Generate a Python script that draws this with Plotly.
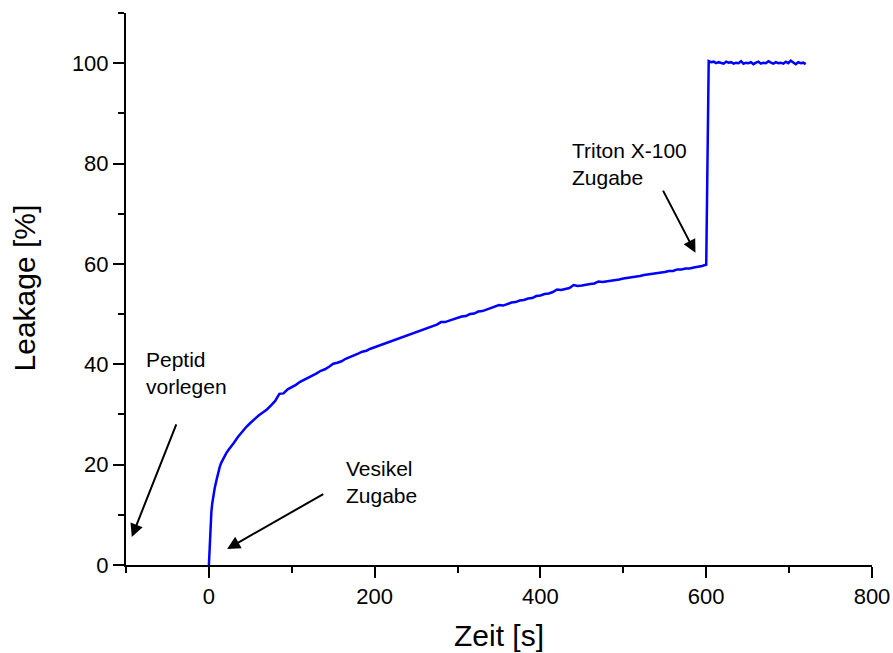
import plotly.graph_objects as go

# --- data ---
time_s = [0, 1, 2, 3, 4, 5, 7, 9, 11, 13, 15, 18, 21, 24, 27, 30,
          35, 40, 45, 50, 55, 60, 65, 70, 75, 80, 85, 90, 95, 100,
          105, 110, 115, 120, 125, 130, 135, 140, 145, 150,
          155, 160, 165, 170, 175, 180, 185, 190, 195, 200,
          205, 210, 215, 220, 225, 230, 235, 240, 245, 250,
          255, 260, 265, 270, 275, 280, 285, 290, 295, 300,
          305, 310, 315, 320, 325, 330, 335, 340, 345, 350,
          355, 360, 365, 370, 375, 380, 385, 390, 395, 400,
          405, 410, 415, 420, 425, 430, 435, 440, 445, 450,
          455, 460, 465, 470, 475, 480, 485, 490, 495, 500,
          505, 510, 515, 520, 525, 530, 535, 540, 545, 550,
          555, 560, 565, 570, 575, 580, 585, 590, 595, 599,
          600, 603, 606, 609, 612, 615, 618, 621, 624, 627, 630,
          633, 636, 639, 642, 645, 648, 651, 654, 657, 660,
          663, 666, 669, 672, 675, 678, 681, 684, 687, 690,
          693, 696, 699, 702, 705, 708, 711, 714, 717, 720]

leakage_pct = [0.0, 5.0, 8.6, 10.6, 12.2, 13.5, 15.3, 16.8, 18.3, 19.5, 20.4, 21.5, 22.3, 23.0, 23.6, 24.3,
               25.5, 26.6, 27.5, 28.3, 29.1, 29.8, 30.4, 31.0, 31.8, 32.7, 34.1, 34.2, 35.0, 35.4,
               35.9, 36.5, 36.9, 37.4, 37.8, 38.2, 38.7, 39.0, 39.5, 40.1,
               40.3, 40.6, 41.1, 41.4, 41.8, 42.1, 42.5, 42.7, 43.1, 43.4,
               43.8, 44.0, 44.4, 44.6, 45.0, 45.2, 45.6, 45.8, 46.2, 46.4,
               46.8, 47.0, 47.4, 47.6, 47.9, 48.4, 48.4, 48.7, 49.0, 49.2,
               49.5, 49.6, 50.0, 50.1, 50.5, 50.6, 50.9, 51.1, 51.4, 51.8,
               51.7, 52.0, 52.3, 52.4, 52.7, 52.8, 53.1, 53.2, 53.6, 53.7,
               54.0, 54.1, 54.4, 54.9, 54.8, 55.0, 55.2, 55.8, 55.6, 55.7,
               55.9, 56.0, 56.1, 56.5, 56.4, 56.5, 56.6, 56.8, 56.9, 57.1,
               57.2, 57.3, 57.5, 57.6, 57.8, 57.9, 58.1, 58.1, 58.3, 58.4,
               58.6, 58.6, 58.9, 58.9, 59.1, 59.1, 59.3, 59.4, 59.6, 59.8,
               59.7, 100.4, 100.2, 100.3, 100.0, 100.2, 100.1, 99.9, 100.3, 100.1, 100.2,
               99.9, 100.1, 100.0, 100.4, 99.9, 100.1, 100.0, 100.2, 99.8, 100.1,
               100.3, 99.9, 100.1, 100.0, 100.4, 100.1, 99.9, 100.2, 100.0, 100.1,
               99.9, 100.3, 100.0, 100.5, 100.1, 99.8, 100.2, 100.0, 100.1, 99.8]

x_ticks = [0, 200, 400, 600, 800]
y_ticks = [0, 20, 40, 60, 80, 100]

# annotations: (text, text_x, text_y, head_x, head_y, tail_x, tail_y)
notes_text = ["Peptid<br>vorlegen", "Vesikel<br>Zugabe", "Triton X-100<br>Zugabe"]
notes_text_x = [-78, 163, 436]
notes_text_y = [43.7, 22.0, 85.2]
arrow_head_x = [-93, 22, 587]
arrow_head_y = [5.6, 3.2, 62.2]
arrow_tail_x = [-38.6, 139.8, 547]
arrow_tail_y = [28.3, 14.3, 74.9]

FONT = "Arial, Liberation Sans, Helvetica, sans-serif"

fig = go.Figure()
fig.add_trace(go.Scatter(x=time_s, y=leakage_pct, mode="lines",
                         line=dict(color="#0000ff", width=2.5), showlegend=False))

for i, t in enumerate(notes_text):
    fig.add_annotation(x=notes_text_x[i], y=notes_text_y[i], xref="x", yref="y",
                       text=t, showarrow=False, xanchor="left", yanchor="top",
                       align="left", font=dict(family=FONT, size=21, color="black"))
    fig.add_annotation(x=arrow_head_x[i], y=arrow_head_y[i], xref="x", yref="y",
                       ax=arrow_tail_x[i], ay=arrow_tail_y[i], axref="x", ayref="y",
                       text="", showarrow=True, arrowhead=2, arrowsize=1.3,
                       arrowwidth=2, arrowcolor="black", standoff=0, startstandoff=0)

# axis titles
fig.add_annotation(x=0.5, y=-0.128, xref="paper", yref="paper", text="Zeit [s]",
                   showarrow=False, xanchor="center", yanchor="middle",
                   font=dict(family=FONT, size=30, color="black"))
fig.add_annotation(x=-0.136, y=0.502, xref="paper", yref="paper", text="Leakage [%]",
                   showarrow=False, xanchor="center", yanchor="middle", textangle=-90,
                   font=dict(family=FONT, size=30, color="black"))

axis_common = dict(showline=True, linecolor="black", linewidth=2, mirror=False,
                   ticks="outside", ticklen=11, tickwidth=2, tickcolor="black",
                   showgrid=False, zeroline=False,
                   tickfont=dict(family=FONT, size=22, color="black"))

fig.update_xaxes(range=[-100, 800], tickmode="array", tickvals=x_ticks,
                 minor=dict(ticks="outside", ticklen=6, tickwidth=2, tickcolor="black",
                            dtick=100, tick0=-100, showgrid=False),
                 **axis_common)
fig.update_yaxes(range=[0, 110], tickmode="array", tickvals=y_ticks,
                 minor=dict(ticks="outside", ticklen=6, tickwidth=2, tickcolor="black",
                            dtick=10, tick0=10, showgrid=False),
                 **axis_common)

fig.update_layout(width=893, height=653,
                  margin=dict(l=126, r=21, t=13, b=88, autoexpand=False),
                  plot_bgcolor="white", paper_bgcolor="white",
                  font=dict(family=FONT, color="black"))

fig.write_html("out.html")
